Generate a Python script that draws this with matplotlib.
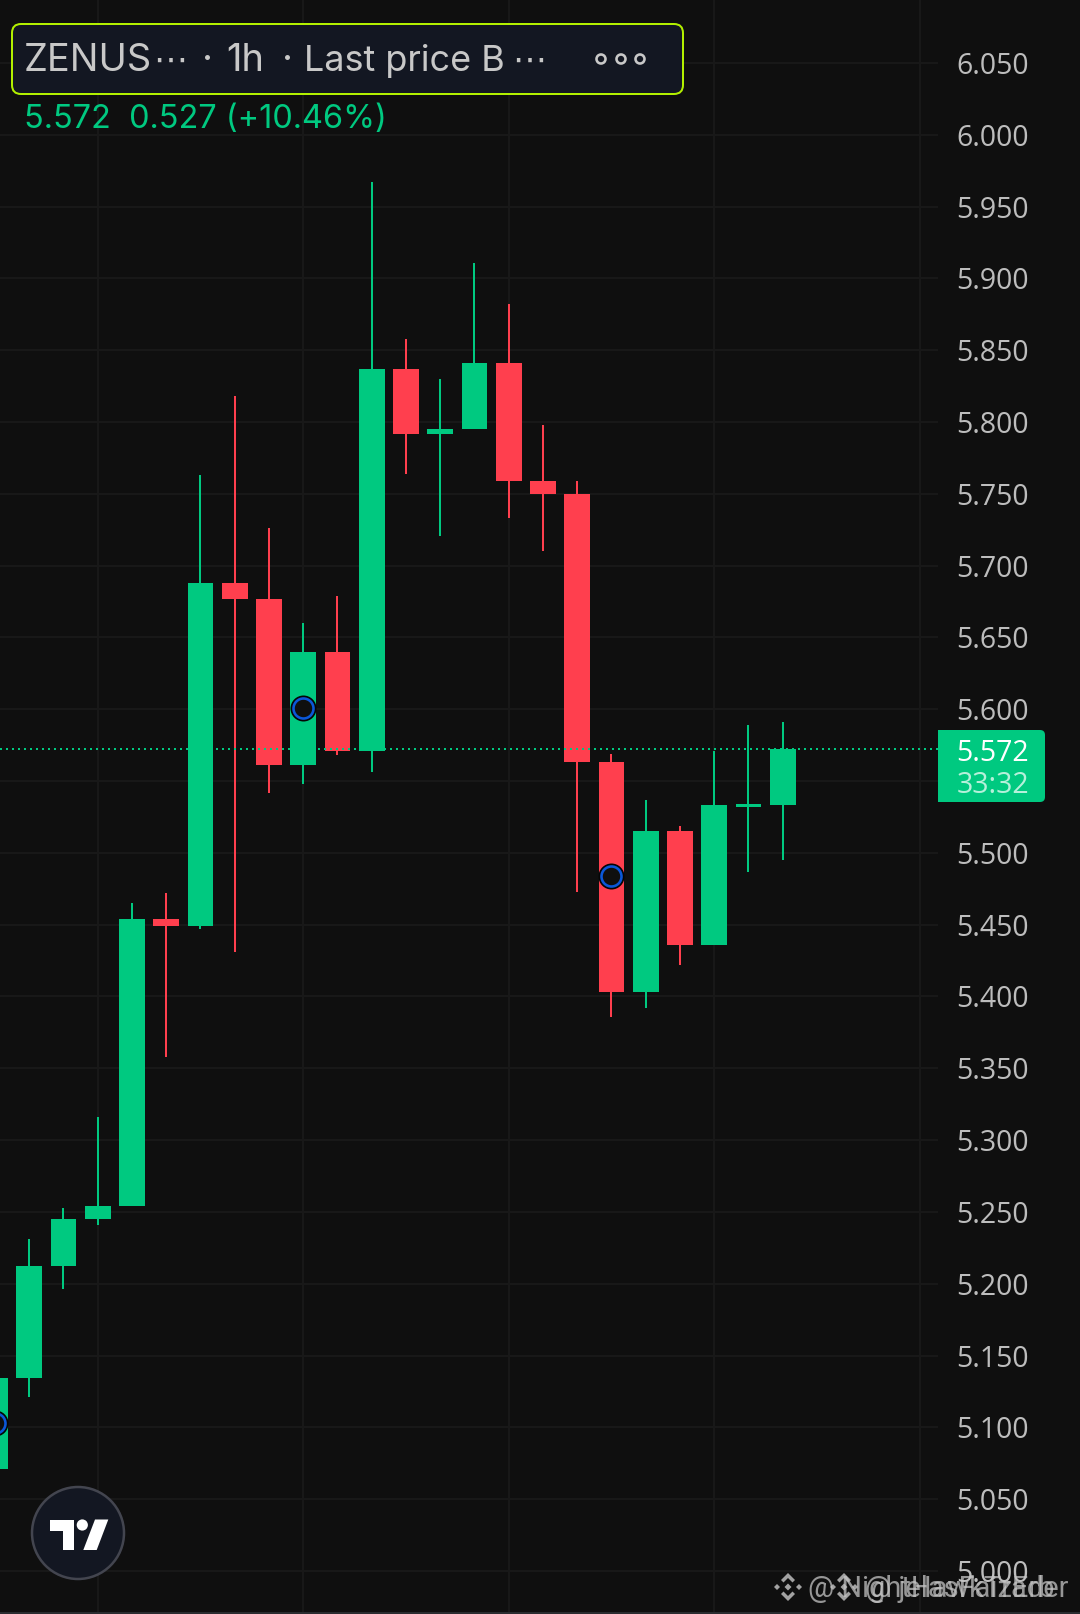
#!/usr/bin/env python3
"""TradingView style 1h candle chart, phone screenshot layout."""
import matplotlib
matplotlib.use('Agg')
import matplotlib.pyplot as plt
from matplotlib.patches import FancyBboxPatch, Circle, Polygon

# Palette
BG = '#0F0F0F'
GRID = '#181818'
GREEN = '#00C980'
RED = '#FF3F4E'
LABEL = '#BDBDBD'
PANEL = '#131722'
LIME = '#B2F000'
TICK_FONT = ['Open Sans', 'DejaVu Sans']

# Candles
opens = [5.071, 5.134, 5.212, 5.245, 5.254, 5.454, 5.449, 5.688, 5.677, 5.561, 5.640, 5.571,
         5.837, 5.792, 5.795, 5.841, 5.759, 5.750, 5.563, 5.403, 5.515, 5.436, 5.532, 5.533]
closes = [5.134, 5.212, 5.245, 5.254, 5.454, 5.449, 5.688, 5.677, 5.561, 5.640, 5.571, 5.837,
          5.792, 5.795, 5.841, 5.759, 5.750, 5.563, 5.403, 5.515, 5.436, 5.533, 5.534, 5.572]
highs = [5.134, 5.231, 5.253, 5.316, 5.465, 5.472, 5.763, 5.818, 5.726, 5.660, 5.679, 5.967,
         5.858, 5.830, 5.911, 5.882, 5.798, 5.759, 5.569, 5.537, 5.519, 5.571, 5.589, 5.591]
lows = [5.071, 5.121, 5.196, 5.241, 5.254, 5.358, 5.447, 5.431, 5.542, 5.548, 5.568, 5.556,
        5.764, 5.721, 5.795, 5.733, 5.710, 5.473, 5.386, 5.392, 5.422, 5.436, 5.487, 5.495]

# Event markers
marker_idx = [0, 9, 18]
marker_price = [5.103, 5.601, 5.484]

# Axis
price_ticks = [5.00, 5.05, 5.10, 5.15, 5.20, 5.25, 5.30, 5.35, 5.40, 5.45, 5.50,
               5.55, 5.60, 5.65, 5.70, 5.75, 5.80, 5.85, 5.90, 5.95, 6.00, 6.05]
hidden_ticks = [5.55]
time_grid = [3, 9, 15, 21, 27]
last_price = 5.572

W, H = 1080, 1614
PX = 72 / 100  # one pixel in points

plt.rcParams['font.family'] = ['Inter', 'DejaVu Sans']

fig = plt.figure(figsize=(W / 100, H / 100), dpi=100, facecolor=BG)

ax = fig.add_axes([0, 0, 938 / W, 1], facecolor=BG, zorder=1)
ax.set_xlim(0.146, 27.533)
ax.set_ylim(4.9700, 6.0939)
for s in ax.spines.values():
    s.set_visible(False)

ax.set_yticks(price_ticks)
ax.set_yticklabels(['' if p in hidden_ticks else f'{p:.3f}' for p in price_ticks])
ax.set_xticks(time_grid)
ax.set_xticklabels([])
ax.yaxis.tick_right()
ax.tick_params(axis='both', length=0)
ax.tick_params(axis='y', pad=91 * PX, labelsize=28.5 * PX, labelcolor=LABEL)
for t in ax.get_yticklabels():
    t.set_horizontalalignment('right')
    t.set_verticalalignment('center_baseline')
    t.set_family(TICK_FONT)
ax.grid(True, color=GRID, lw=2 * PX)
ax.set_axisbelow(True)

# candles
for i, (o, c, h, l) in enumerate(zip(opens, closes, highs, lows)):
    col = GREEN if c >= o else RED
    ax.vlines(i, l, h, color=col, lw=2 * PX, zorder=3)
    ax.bar(i, abs(c - o), bottom=min(o, c), width=0.75, color=col, edgecolor='none', zorder=4)

ax.axhline(last_price, color=GREEN, lw=2 * PX, ls=(0, (1, 2)), dash_capstyle='butt', zorder=5)

ax.plot(marker_idx, marker_price, 'o', ms=26 * PX, mfc='#050505', mec='none', zorder=6)
ax.plot(marker_idx, marker_price, 'o', ms=20 * PX, mfc=BG, mec='#0B57D8', mew=2.6 * PX, zorder=7)

# overlay in pixel coordinates, for the app's furniture
ui = fig.add_axes([0, 0, 1, 1], zorder=2)
ui.set_xlim(0, W)
ui.set_ylim(H, 0)
ui.axis('off')

# legend panel
ui.add_patch(FancyBboxPatch((12, 24), 671, 70, boxstyle='round,pad=0,rounding_size=9',
                            fc=PANEL, ec=LIME, lw=2 * PX))
for x, txt, size in [(24, 'ZENUS', 38), (153, '⋯', 34), (202, '·', 38), (226, '1h', 38), (282, '·', 38),
                     (304, 'Last price B', 36), (512, '⋯', 34)]:
    ui.text(x, 71, txt, fontsize=size * PX, color='#C8C8C8', ha='left', va='baseline')
for x in (601, 621, 640):
    ui.add_patch(Circle((x, 59), 4.5, fc='none', ec='#C8C8C8', lw=2.6 * PX))
ui.text(24, 128, '5.572  0.527 (+10.46%)', fontsize=32.5 * PX, color=GREEN, ha='left', va='baseline')

# last price tag
ui.add_patch(FancyBboxPatch((1000, 730), 45, 72, boxstyle='round,pad=0,rounding_size=5',
                            fc=GREEN, ec='none'))
ui.add_patch(plt.Rectangle((938, 730), 72, 72, fc=GREEN, ec='none'))
ui.text(1029, 761, f'{last_price:.3f}', family=TICK_FONT, fontsize=28.5 * PX, color='white',
        ha='right', va='baseline')
ui.text(1029, 793, '33:32', family=TICK_FONT, fontsize=28.5 * PX, color='#B5F0DA',
        ha='right', va='baseline')

# TradingView badge
ui.add_patch(Circle((78, 1533), 46, fc=PANEL, ec='#43454F', lw=2.5 * PX))
ui.add_patch(Polygon([(50, 1519.5), (74, 1519.5), (74, 1550), (63.3, 1550), (63.3, 1530.7), (50, 1530.7)],
                     fc='white', ec='none'))
ui.add_patch(Circle((82.3, 1525), 5.6, fc='white', ec='none'))
ui.add_patch(Polygon([(95, 1519.5), (108.3, 1519.5), (96.7, 1550), (83.3, 1550)], fc='white', ec='none'))


def binance_logo(cx, cy, s=14):
    """Binance diamond mark drawn from small polygons."""
    col = '#BDBDBD'
    k = s / 14
    pts = [
        [(0, -14), (7, -7), (4.5, -4.5), (0, -9), (-4.5, -4.5), (-7, -7)],
        [(0, 14), (7, 7), (4.5, 4.5), (0, 9), (-4.5, 4.5), (-7, 7)],
        [(-14, 0), (-11, -3), (-8, 0), (-11, 3)],
        [(14, 0), (11, -3), (8, 0), (11, 3)],
        [(0, -3.5), (3.5, 0), (0, 3.5), (-3.5, 0)],
    ]
    for p in pts:
        ui.add_patch(Polygon([(cx + a * k, cy + b * k) for a, b in p], fc=col, ec='none', alpha=0.85))


# two watermarks stacked on each other
binance_logo(788, 1587)
binance_logo(844, 1587)
ui.text(808, 1597, '@ NightHawkTrader', family=['Roboto', 'DejaVu Sans'], fontsize=29 * PX,
        color='#C4C4C4', alpha=0.75, ha='left', va='baseline')
ui.text(865, 1597, '@ jelasFaizErb', family=['Roboto', 'DejaVu Sans'], fontsize=29 * PX,
        color='#C4C4C4', alpha=0.75, ha='left', va='baseline')

# thin strip at the very bottom of the screenshot
ui.add_patch(plt.Rectangle((0, 1612), W, 2, fc='#2A2C30', ec='none'))

fig.savefig('out.png', dpi=100, facecolor=BG)
plt.close()
